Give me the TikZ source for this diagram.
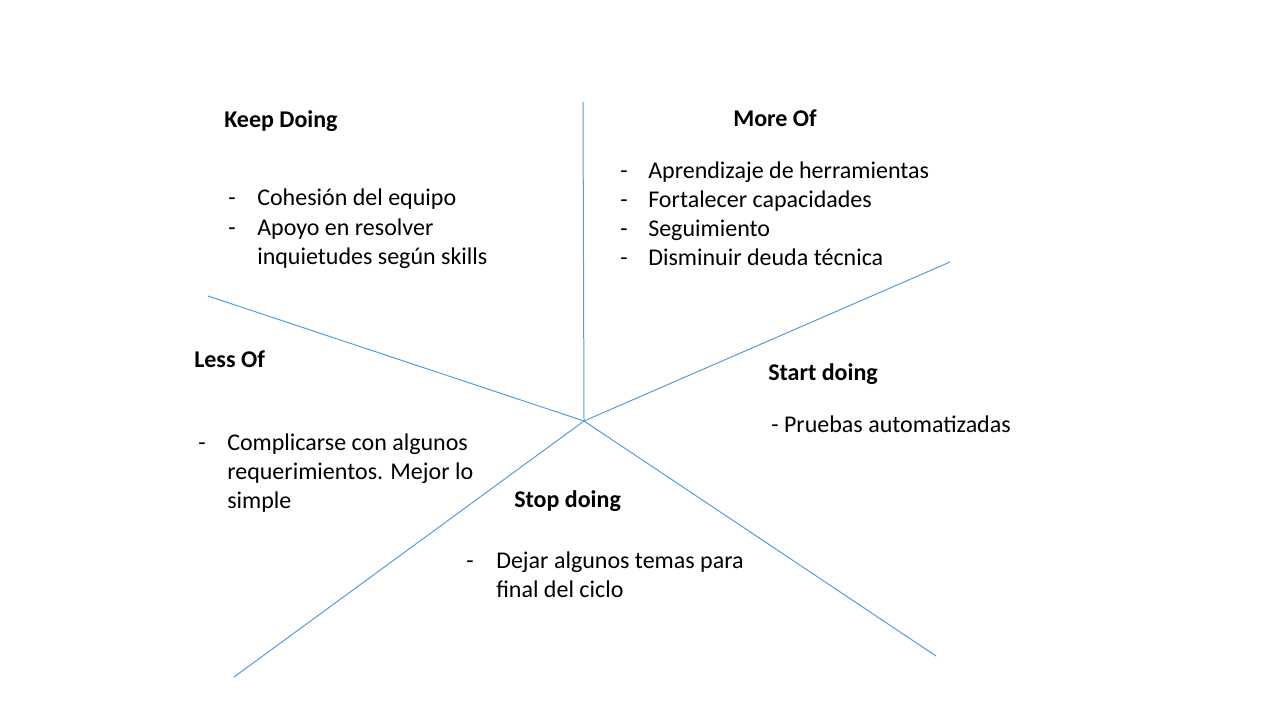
\documentclass[tikz,border=0pt]{standalone}
\usepackage{fontspec}
\setmainfont{Carlito}
\usepackage{tikz}

\definecolor{spoke}{RGB}{91,155,213}
\newcommand{\toplines}[1]{\begin{tabular}[t]{@{}l@{}}#1\end{tabular}}

\begin{document}
\begin{tikzpicture}[x=0.75pt, y=-0.75pt,
    spokeline/.style={draw=spoke, line width=0.75pt},
    heading/.style={anchor=base west, inner sep=0pt, font=\fontsize{18}{21.75}\selectfont\bfseries},
    itemtext/.style={anchor=base west, inner sep=0pt,
      font=\fontsize{18}{21.75}\selectfont}]
    \path [use as bounding box]
      (0, 0) rectangle (1280, 720);

    % spokes
    \coordinate (hub) at (584, 421);
    \coordinate (tipmore) at (583, 102);
    \coordinate (tipstart) at (950, 262);
    \coordinate (tipstop) at (936, 656);
    \coordinate (tipless) at (234, 677);
    \coordinate (tipkeep) at (208, 296);
    \foreach \tip in {tipmore, tipstart, tipstop, tipless, tipkeep}
      \draw[spokeline] (hub) -- (\tip);

    % Keep Doing
    \node[heading] (keep) at (224, 128) {Keep Doing};
    \node[itemtext] (keepdasha) at (228, 206) {-};
    \node[itemtext] (keepa) at (257, 206) {Cohesión del equipo};
    \node[itemtext] (keepdashb) at (228, 235) {-};
    \node[itemtext] (keepb) at (257, 235) {\toplines{Apoyo en resolver\\inquietudes según skills}};

    % More Of
    \node[heading] (more) at (733, 127) {More Of};
    \foreach \y/\txt [count=\i] in {179/Aprendizaje de herramientas,
        208/Fortalecer capacidades, 237/Seguimiento, 265/Disminuir deuda técnica} {
      \node[itemtext] (moredash\i) at (620, \y) {-};
      \node[itemtext] (more\i) at (648, \y) {\txt};
    }

    % Less Of
    \node[heading] (less) at (194, 367) {Less Of};
    \node[itemtext] (lessdash) at (198, 450) {-};
    \node[itemtext] (lessa) at (227, 450) {\toplines{Complicarse con algunos\\requerimientos. Mejor lo\\simple}};

    % Start doing
    \node[heading] (start) at (768, 380) {Start doing};
    \node[itemtext] (starta) at (771, 432) {- Pruebas automatizadas};

    % Stop doing
    \node[heading] (stop) at (514, 507) {Stop doing};
    \node[itemtext] (stopdash) at (466, 568) {-};
    \node[itemtext] (stopa) at (496, 568) {\toplines{Dejar algunos temas para\\final del ciclo}};

  \end{tikzpicture}
\end{document}
